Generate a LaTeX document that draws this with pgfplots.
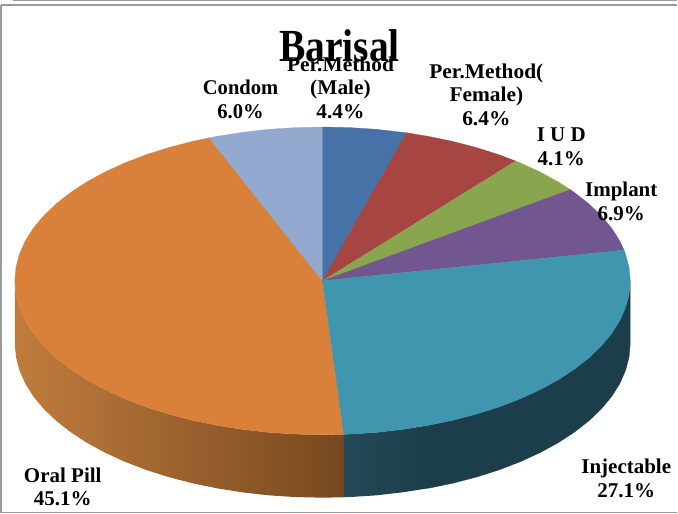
\documentclass[border=0pt]{standalone}
\usepackage{pgfplots}
\usepackage{fontspec}
\usepackage{graphicx}
\setmainfont{Liberation Serif}
\pgfplotsset{compat=1.18}
\definecolor{cMale}{HTML}{4672A8}
\definecolor{cFemale}{HTML}{A64542}
\definecolor{cIUD}{HTML}{89A54E}
\definecolor{cImpl}{HTML}{71568F}
\definecolor{cInj}{HTML}{4095AF}
\definecolor{cOral}{HTML}{D9813B}
\definecolor{cCond}{HTML}{93A9CF}
\definecolor{wInjL}{HTML}{234A58}
\definecolor{wInjD}{HTML}{1C3E4A}
\definecolor{wOralL}{HTML}{C17C3D}
\definecolor{wOralD}{HTML}{77481F}
\definecolor{frameg}{HTML}{9A9A9A}
\newcommand\lb[2]{\scalebox{#1}[1]{\begin{tabular}{@{}c@{}}#2\end{tabular}}}
\tikzset{lab/.style={font=\bfseries\fontsize{21bp}{23.5bp}\selectfont, inner sep=0pt, text=black}}
\begin{document}
\begin{tikzpicture}[x=1bp,y=1bp]
\begin{axis}[
  scale only axis, width=678bp, height=514bp,
  xmin=0, xmax=678, ymin=0, ymax=514, y dir=reverse,
  hide axis, clip=false,
  every axis plot/.append style={forget plot, line width=0.3pt},
]
% side walls
\addplot[draw=none, left color=wOralL, right color=wOralD] coordinates {
(15,281)(16.2,294.4)(19.7,307.7)(25.5,320.9)(33.6,333.7)(43.9,346.1)(56.3,358)(70.7,369.3)(87.1,380)(105.2,389.9)(125,399)(146.3,407.2)(169,414.4)(192.8,420.6)(217.7,425.7)(243.3,429.7)(269.5,432.7)(296.1,434.4)(323,435)(344.3,434.6)
(344.3,497.6)(323,498)(296.1,497.4)(269.5,495.7)(243.3,492.7)(217.7,488.7)(192.8,483.6)(169,477.4)(146.3,470.2)(125,462)(105.2,452.9)(87.1,443)(70.7,432.3)(56.3,421)(43.9,409.1)(33.6,396.7)(25.5,383.9)(19.7,370.7)(16.2,357.4)(15,344)
} -- cycle;
\addplot[draw=none, left color=wInjL, right color=wInjD] coordinates {
(344.3,434.6)(349.9,434.4)(376.5,432.7)(402.7,429.7)(428.3,425.7)
(428.3,488.7)(402.7,492.7)(376.5,495.7)(349.9,497.4)(344.3,497.6)
} -- cycle;
\addplot[fill=wInjD, draw=wInjD] coordinates {
(428.3,425.7)(453.2,420.6)(477,414.4)(499.7,407.2)(521,399)(540.8,389.9)(558.9,380)(575.3,369.3)(589.7,358)(602.1,346.1)(612.4,333.7)(620.5,320.9)(626.3,307.7)(629.8,294.4)(631,281)
(631,344)(629.8,357.4)(626.3,370.7)(620.5,383.9)(612.4,396.7)(602.1,409.1)(589.7,421)(575.3,432.3)(558.9,443)(540.8,452.9)(521,462)(499.7,470.2)(477,477.4)(453.2,483.6)(428.3,488.7)
} -- cycle;
% top face
\addplot[fill=cOral, draw=cOral] coordinates {
(323,281)(344.3,434.6)(323,435)(296.1,434.4)(269.5,432.7)(243.3,429.7)(217.7,425.7)(192.8,420.6)(169,414.4)(146.3,407.2)(125,399)(105.2,389.9)(87.1,380)(70.7,369.3)(56.3,358)(43.9,346.1)(33.6,333.7)(25.5,320.9)(19.7,307.7)(16.2,294.4)(15,281)(16.2,267.6)(19.7,254.3)(25.5,241.1)(33.6,228.3)(43.9,215.9)(56.3,204)(70.7,192.7)(87.1,182)(105.2,172.1)(125,163)(146.3,154.8)(169,147.6)(192.8,141.4)(209.6,137.8)
} -- cycle;
\addplot[fill=cCond, draw=cCond] coordinates {
(323,281)(209.6,137.8)(217.7,136.3)(243.3,132.3)(269.5,129.3)(296.1,127.6)(323,127)
} -- cycle;
\addplot[fill=cMale, draw=cMale] coordinates {
(323,281)(323,127)(349.9,127.6)(376.5,129.3)(402.7,132.3)(407.1,132.8)
} -- cycle;
\addplot[fill=cFemale, draw=cFemale] coordinates {
(323,281)(407.1,132.8)(428.3,136.3)(453.2,141.4)(477,147.6)(499.7,154.8)(516.3,161.1)
} -- cycle;
\addplot[fill=cIUD, draw=cIUD] coordinates {
(323,281)(516.3,161.1)(521,163)(540.8,172.1)(558.9,182)(571,189.7)
} -- cycle;
\addplot[fill=cImpl, draw=cImpl] coordinates {
(323,281)(571,189.7)(575.3,192.7)(589.7,204)(602.1,215.9)(612.4,228.3)(620.5,241.1)(624.8,250.2)
} -- cycle;
\addplot[fill=cInj, draw=cInj] coordinates {
(323,281)(624.8,250.2)(626.3,254.3)(629.8,267.6)(631,281)(629.8,294.4)(626.3,307.7)(620.5,320.9)(612.4,333.7)(602.1,346.1)(589.7,358)(575.3,369.3)(558.9,380)(540.8,389.9)(521,399)(499.7,407.2)(477,414.4)(453.2,420.6)(428.3,425.7)(402.7,429.7)(376.5,432.7)(349.9,434.4)(344.3,434.6)
} -- cycle;
% frame
\draw[frameg, line width=1.6pt] (axis cs:1,5) -- (axis cs:678,5);
\draw[frameg, line width=1.6pt] (axis cs:1,5) -- (axis cs:1,513);
\draw[frameg, line width=1.6pt] (axis cs:1,513) -- (axis cs:678,513);
\draw[frameg, line width=1.2pt] (axis cs:13,0.5) -- (axis cs:678,0.5);
% labels
\node[font=\bfseries\fontsize{46bp}{50bp}\selectfont, inner sep=0pt] at (axis cs:340,46) {\scalebox{0.86}[1]{Barisal}};
\node[lab] at (axis cs:241,102) {\lb{0.98}{Condom\\6.0\%}};
\node[lab] at (axis cs:341,90) {\lb{1.02}{Per.Method\\(Male)\\4.4\%}};
\node[lab] at (axis cs:487,97) {\lb{1.02}{Per.Method(\\Female)\\6.4\%}};
\node[lab] at (axis cs:562,149) {\lb{1}{I U D\\4.1\%}};
\node[lab] at (axis cs:622,204) {\lb{1}{Implant\\6.9\%}};
\node[lab] at (axis cs:627,481) {\lb{1}{Injectable\\27.1\%}};
\node[lab] at (axis cs:63,489.5) {\lb{1}{Oral Pill\\45.1\%}};
\end{axis}
\end{tikzpicture}
\end{document}
